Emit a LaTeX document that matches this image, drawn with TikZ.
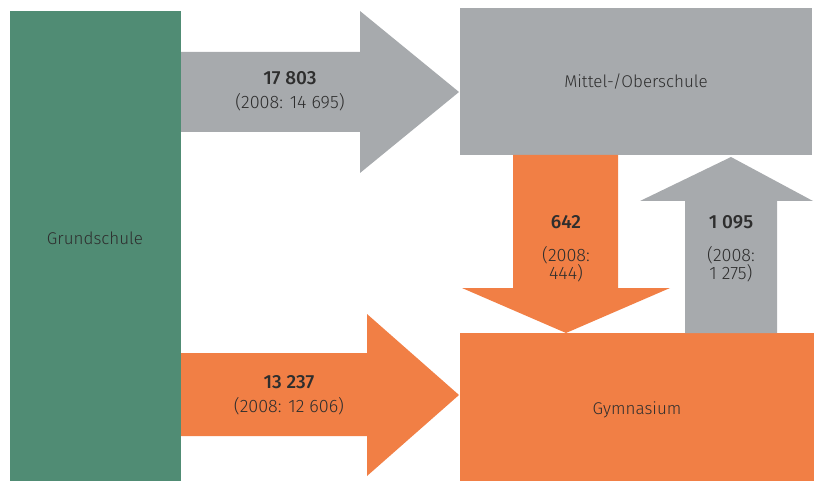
\documentclass[tikz,border=0pt]{standalone}
\usepackage{fontspec}
\setmainfont{Fira Sans Light}[BoldFont={Fira Sans Medium}]
\begin{document}
\begin{tikzpicture}[x=1pt,y=-1pt,
  lbl/.style={text=txt,font=\fontsize{17}{19}\selectfont,align=center,inner sep=0pt},
  num/.style={text=txt,font=\fontsize{19}{21}\selectfont\bfseries,inner sep=0pt},
  sm/.style={text=txt,font=\fontsize{18}{16}\selectfont,align=center,inner sep=0pt}]
\definecolor{gr}{HTML}{508C74}
\definecolor{gy}{HTML}{A7AAAD}
\definecolor{or}{HTML}{F17F45}
\definecolor{txt}{HTML}{2E2E2E}
\useasboundingbox (0,0) rectangle (814,481);
% boxes
\fill[gr] (10,11) rectangle (181,481);
\fill[gy] (460,8) rectangle (812,155);
\fill[or] (460,333) rectangle (814,481);
% arrow to Mittel
\fill[gy] (181,52) -- (360,52) -- (360,11) -- (459,92) -- (360,173) -- (360,132) -- (181,132) -- cycle;
% arrow to Gymnasium
\fill[or] (181,353) -- (367,353) -- (367,314) -- (459,395) -- (367,476) -- (367,436) -- (181,436) -- cycle;
% down arrow
\fill[or] (513,155) -- (618,155) -- (618,288) -- (670,288) -- (566,333) -- (462,288) -- (513,288) -- cycle;
% up arrow
\fill[gy] (685,333) -- (685,201) -- (640,201) -- (731,157) -- (813,201) -- (777,201) -- (777,333) -- cycle;
% labels
\node[lbl] (g) at (95,238) {Grundschule};
\node[lbl] (m) at (636,82) {Mittel-/Oberschule};
\node[lbl] (y) at (637,410) {Gymnasium};
\node[num] (a1) at (290,78) {17 803};
\node[sm] (a1b) at (290,102) {(2008: 14 695)};
\node[num] (a2) at (289,382) {13 237};
\node[sm] (a2b) at (289,406) {(2008: 12 606)};
\node[num] (a3) at (566,222) {642};
\node[sm] (a3b) at (566,264) {(2008:\\444)};
\node[num] (a4) at (731,222) {1 095};
\node[sm] (a4b) at (731,264) {(2008:\\1 275)};
\end{tikzpicture}
\end{document}
